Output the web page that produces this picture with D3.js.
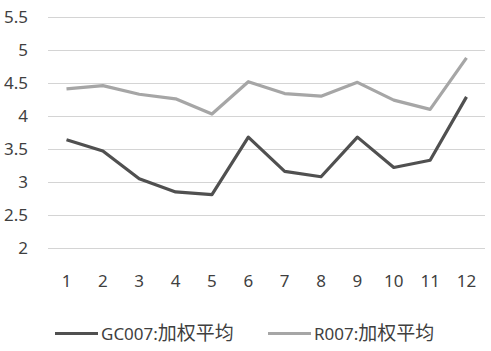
<!DOCTYPE html>
<html><head><meta charset="utf-8">
<script src="https://cdn.jsdelivr.net/npm/d3@7"></script>
<style>body{margin:0;background:#fff}svg{display:block}</style>
</head><body>
<script>
const categories = ["1","2","3","4","5","6","7","8","9","10","11","12"];
const gc007 = [3.64,3.47,3.05,2.85,2.81,3.68,3.16,3.08,3.68,3.22,3.33,4.29];
const r007 = [4.41,4.46,4.33,4.26,4.03,4.52,4.34,4.30,4.51,4.24,4.10,4.88];
const yTicks = [2,2.5,3,3.5,4,4.5,5,5.5];
const seriesCodes = ["GC007:","R007:"];
const seriesSuffix = "加权平均";

const W=491,H=351;
const svg=d3.select("body").append("svg").attr("width",W).attr("height",H);
const font="'Noto Sans','Noto Sans CJK SC',sans-serif";
const textColor="#3f3f3f";
const x=d3.scalePoint().domain(categories).range([66.5,466.5]);
const y=d3.scaleLinear().domain([2,5.5]).range([248,17]);

svg.append("g").selectAll("line").data(yTicks).join("line")
  .attr("x1",48).attr("x2",485).attr("y1",d=>y(d)+0.5).attr("y2",d=>y(d)+0.5)
  .attr("stroke","#d4d4d4").attr("stroke-width",1);

svg.append("g").selectAll("text").data(yTicks).join("text")
  .attr("x",28).attr("y",d=>y(d)).attr("dy","0.36em").attr("text-anchor","end")
  .attr("font-family",font).attr("font-size",17).attr("fill",textColor)
  .text(d=>d3.format("")(d));

svg.append("g").selectAll("text").data(categories).join("text")
  .attr("x",d=>x(d)).attr("y",281).attr("dy","0.36em").attr("text-anchor","middle")
  .attr("font-family",font).attr("font-size",17).attr("fill",textColor)
  .text(d=>d);

const line=d3.line().x((d,i)=>x(categories[i])).y(d=>y(d));
const colors=["#505050","#a6a6a6"];
[gc007,r007].forEach((s,k)=>{
  svg.append("path").attr("d",line(s)).attr("fill","none")
    .attr("stroke",colors[k]).attr("stroke-width",3.2).attr("stroke-linejoin","round");
});

const legX=[55,268];
seriesCodes.forEach((n,k)=>{
  svg.append("line").attr("x1",legX[k]).attr("x2",legX[k]+43).attr("y1",333.5).attr("y2",333.5)
    .attr("stroke",colors[k]).attr("stroke-width",3.2);
  const t=svg.append("text").attr("x",legX[k]+46).attr("y",334).attr("dy","0.36em")
    .attr("font-family",font).attr("font-size",17).attr("fill",textColor);
  t.append("tspan").text(n);
  t.append("tspan").attr("font-size",19).text(seriesSuffix);
});
</script>
</body></html>
